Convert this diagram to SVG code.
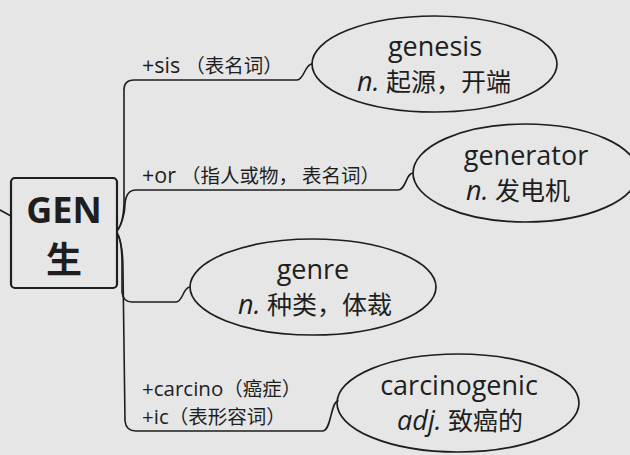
<svg xmlns="http://www.w3.org/2000/svg" width="630" height="455" viewBox="0 0 630 455">
<style>
.bg{fill:#e6e6e6}
.edge{fill:none;stroke:#1e1e1e;stroke-width:1.6;stroke-linecap:round;stroke-linejoin:round}
.ell{fill:none;stroke:#1e1e1e;stroke-width:1.7}
.box{fill:none;stroke:#1e1e1e;stroke-width:2.2}
.t{font-family:"Open Sans","Noto Sans CJK SC",sans-serif;fill:#1e1e1e}
.lbl{font-size:19.5px}
.lat{font-size:21.5px}
.lat2{font-size:20.5px}
.nd{font-size:25px;text-anchor:middle}
.nl{font-size:27px}
.it{font-style:italic}
.root{font-size:36px;font-weight:bold;text-anchor:middle}
</style>
<rect class="bg" x="0" y="0" width="630" height="455"/>
<g id="connectors">
<path class="edge" d="M0,210 L11,216"/>
<path class="edge" d="M117,231 C121,226 124,215 124,200 L124,90 Q124,80 134,80 L297,80 C304,80 305,64 312,64"/>
<path class="edge" d="M117,231 C121,226 125,214 125,204 Q126,190 136,190 L398,190 C406,190 406,173 413,173"/>
<path class="edge" d="M117,233 C121,238 122,250 122,265 L122,292 Q123,302 132,302 L176,302 C183,302 183,287 190,287"/>
<path class="edge" d="M117,233 C121,240 123,255 123,270 L125,421 Q126,431 136,431 L323,431 C331,431 331,401 338,401"/>
</g>
<g id="root">
<rect class="box" x="11" y="178" width="106" height="110" rx="4"/>
<text class="t root" x="64" y="223">GEN</text>
<text class="t root" x="64" y="273">生</text>
</g>
<g id="label-sis"><text class="t lbl" x="142" y="73"><tspan class="lat">+sis</tspan><tspan dx="5">（表名词）</tspan></text></g>
<g id="label-or"><text class="t lbl" x="142" y="183"><tspan class="lat">+or</tspan><tspan dx="5">（指人或物，</tspan><tspan dx="4">表名词）</tspan></text></g>
<g id="label-carcino">
<text class="t lbl" x="142" y="396"><tspan class="lat2">+carcino</tspan>（癌症）</text>
<text class="t lbl" x="142" y="424"><tspan class="lat2">+ic</tspan>（表形容词）</text>
</g>
<g id="node-genesis">
<ellipse class="ell" cx="434.5" cy="64" rx="122.5" ry="48"/>
<text class="t nd nl" x="435" y="56">genesis</text>
<text class="t nd" x="434" y="91"><tspan class="it nl">n.</tspan> 起源，开端</text>
</g>
<g id="node-generator">
<ellipse class="ell" cx="525.5" cy="173" rx="112.5" ry="49"/>
<text class="t nd nl" x="526" y="165">generator</text>
<text class="t nd" x="518" y="200"><tspan class="it nl">n.</tspan> 发电机</text>
</g>
<g id="node-genre">
<ellipse class="ell" cx="313" cy="287" rx="123" ry="48"/>
<text class="t nd nl" x="313" y="279">genre</text>
<text class="t nd" x="315" y="314"><tspan class="it nl">n.</tspan> 种类，体裁</text>
</g>
<g id="node-carcinogenic">
<ellipse class="ell" cx="458" cy="403" rx="121" ry="49"/>
<text class="t nd nl" x="459" y="395">carcinogenic</text>
<text class="t nd" x="460" y="430"><tspan class="it nl">adj.</tspan> 致癌的</text>
</g>
</svg>
